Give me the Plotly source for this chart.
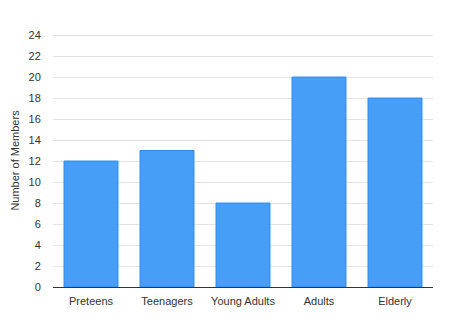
import plotly.graph_objects as go

categories = ["Preteens", "Teenagers", "Young Adults", "Adults", "Elderly"]
members = [12, 13, 8, 20, 18]
y_ticks = list(range(0, 25, 2))

fig = go.Figure(
    go.Bar(
        x=categories,
        y=members,
        marker=dict(color="#479EF6", line=dict(color="#2C8CEE", width=1)),
    )
)

fig.update_layout(
    width=450,
    height=326,
    margin=dict(l=53, r=17, t=34, b=39),
    paper_bgcolor="white",
    plot_bgcolor="white",
    bargap=0.29,
    showlegend=False,
    font=dict(family="Liberation Sans, Arial, sans-serif", size=11, color="#333333"),
)

fig.update_xaxes(
    showline=True,
    linecolor="#333333",
    linewidth=1,
    showgrid=False,
    ticks="outside",
    ticklen=4,
    tickcolor="rgba(0,0,0,0)",
    tickfont=dict(size=11, color="#333333"),
)

fig.update_yaxes(
    range=[0, 24.1],
    tickvals=y_ticks,
    showgrid=True,
    gridcolor="#e4e4e4",
    gridwidth=1,
    zeroline=False,
    showline=False,
    ticks="outside",
    ticklen=9,
    tickcolor="rgba(0,0,0,0)",
    tickfont=dict(size=11, color="#333333"),
    title=dict(text="Number of Members", font=dict(size=11, color="#333333"), standoff=6),
)

fig.write_html("out.html")
